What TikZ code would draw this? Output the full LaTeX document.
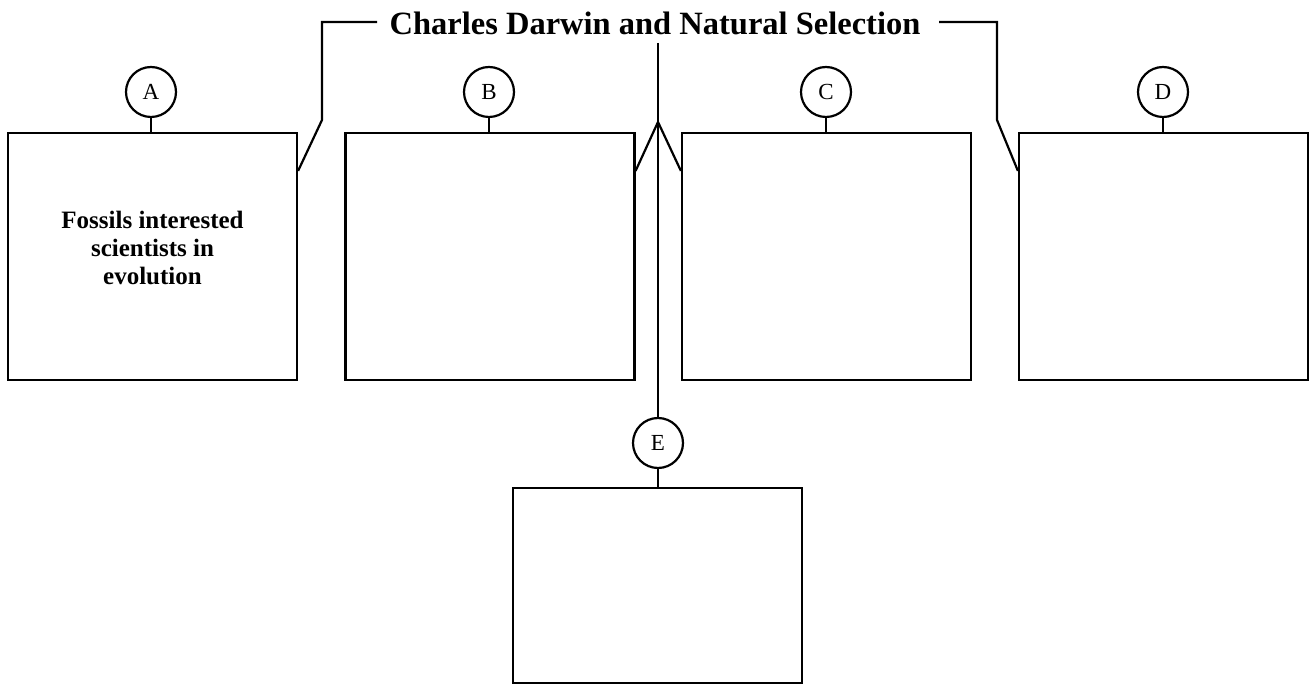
\documentclass[tikz,border=0pt]{standalone}
\usepackage{fontspec}
\setmainfont{Liberation Serif}
\begin{document}
\begin{tikzpicture}[x=1pt,y=-1pt,
  ln/.style={line width=2.2pt},
  box/.style={draw,ln,minimum width=289pt,minimum height=247pt,inner sep=0pt},
  lbl/.style={draw,ln,circle,minimum size=50pt,inner sep=0pt,font=\fontsize{23}{27}\selectfont},
  boxtext/.style={font=\fontsize{25}{28}\selectfont\bfseries,align=center}]
\useasboundingbox (0,0) rectangle (1310,684);
\node[font=\fontsize{32.5}{38}\selectfont\bfseries,inner sep=0pt] (title) at (655,23) {Charles Darwin and Natural Selection};
\node[box] (A) at (152.5,256.5) {};
\node[box] (B) at (490,256.5) {};
\node[box] (C) at (826.5,256.5) {};
\node[box] (D) at (1163.5,256.5) {};
\node[box,minimum height=195pt] (E) at (657.5,585.5) {};
\node[boxtext] (tA) at (152.5,248) {Fossils interested\\scientists in\\evolution};
\node[lbl] (cA) at (151,92) {A};
\node[lbl] (cB) at (489,92) {B};
\node[lbl] (cC) at (826,92) {C};
\node[lbl] (cD) at (1163,92) {D};
\node[lbl] (cE) at (658,443) {E};
\foreach \n in {A,B,C,D,E} \draw[ln] (c\n.south) -- (c\n.south |- \n.north);
\coordinate (lt) at (377,22);
\coordinate (lk) at (322,120);
\coordinate (rt) at (939,22);
\coordinate (rk) at (997,120);
\coordinate (top) at (658,43);
\coordinate (fork) at (658,122);
\draw[ln] (lt) -| (lk) -- ([yshift=-39pt]A.north east);
\draw[ln] (rt) -| (rk) -- ([yshift=-39pt]D.north west);
\draw[ln] (top) -- (cE.north);
\draw[ln] ([yshift=-39pt]B.north east) -- (fork) -- ([yshift=-39pt]C.north west);
\end{tikzpicture}
\end{document}
